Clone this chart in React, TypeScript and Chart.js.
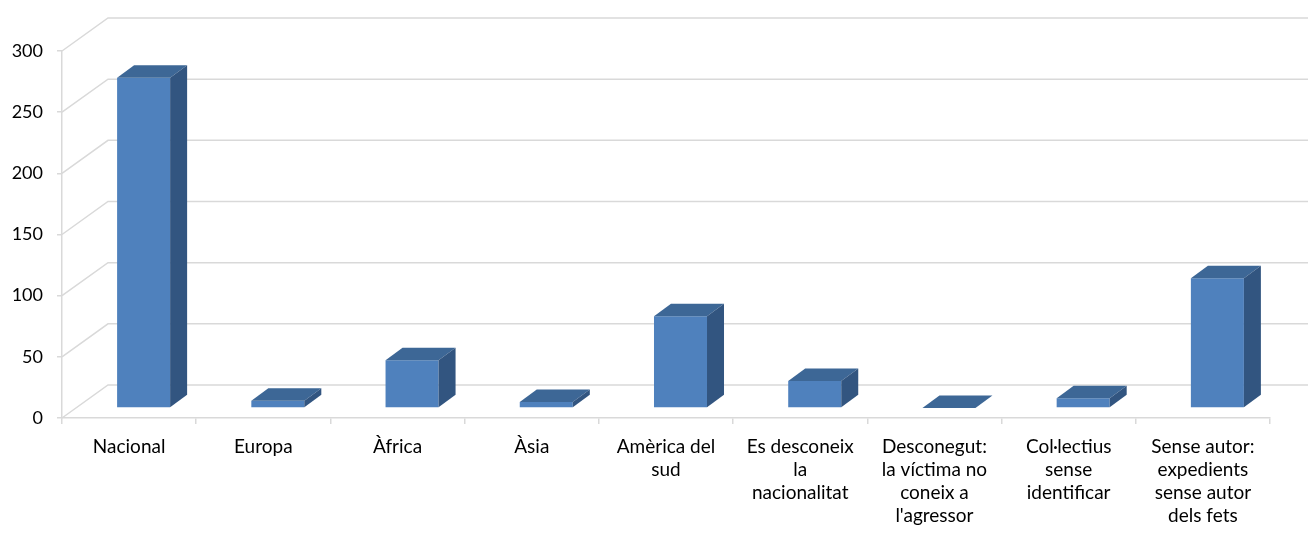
import React, { useEffect, useRef } from "react";
import { Chart, registerables } from "chart.js";

Chart.register(...registerables);

const categories: string[][] = [
  ["Nacional"],
  ["Europa"],
  ["Àfrica"],
  ["Àsia"],
  ["Amèrica del", "sud"],
  ["Es desconeix", "la", "nacionalitat"],
  ["Desconegut:", "la víctima no", "coneix a", "l'agressor"],
  ["Col·lectius", "sense", "identificar"],
  ["Sense autor:", "expedients", "sense autor", "dels fets"],
];
const values: number[] = [270, 6, 39, 5, 75, 22, 0, 8, 106];
const yMin = 0;
const yMax = 300;
const yStep = 50;

// 3D geometry (styling)
const WALL_DX = 46;
const WALL_DY = -33;
const BAR_OX = 14.5;
const BAR_OY = -10;
const BAR_DX = 17;
const BAR_DY = -12.5;
const FRONT = "#4f81bd";
const TOP = "#3d6796";
const SIDE = "#325580";
const GRID = "#d9d9d9";

const threeD = {
  id: "threeD",
  beforeDatasetsDraw(chart: any) {
    const { ctx, chartArea, scales } = chart;
    const y = scales.y;
    ctx.save();
    ctx.strokeStyle = GRID;
    ctx.lineWidth = 1.5;
    const left = chartArea.left;
    y.ticks.forEach((t: any) => {
      const py = y.getPixelForValue(t.value);
      ctx.beginPath();
      ctx.moveTo(left, py);
      ctx.lineTo(left + WALL_DX, py + WALL_DY);
      ctx.lineTo(chart.width, py + WALL_DY);
      ctx.stroke();
    });
    ctx.restore();
  },
  beforeDatasetDraw(chart: any) {
    chart.ctx.save();
    chart.ctx.translate(BAR_OX, BAR_OY);
  },
  afterDatasetDraw(chart: any, args: any) {
    const ctx = chart.ctx;
    const meta = chart.getDatasetMeta(args.index);
    meta.data.forEach((bar: any) => {
      const { x, y, base, width } = bar.getProps(["x", "y", "base", "width"], true);
      const l = x - width / 2;
      const r = x + width / 2;
      ctx.fillStyle = TOP;
      ctx.beginPath();
      ctx.moveTo(l, y);
      ctx.lineTo(r, y);
      ctx.lineTo(r + BAR_DX, y + BAR_DY);
      ctx.lineTo(l + BAR_DX, y + BAR_DY);
      ctx.closePath();
      ctx.fill();
      if (base - y > 0.5) {
        ctx.fillStyle = SIDE;
        ctx.beginPath();
        ctx.moveTo(r, y);
        ctx.lineTo(r + BAR_DX, y + BAR_DY);
        ctx.lineTo(r + BAR_DX, base + BAR_DY);
        ctx.lineTo(r, base);
        ctx.closePath();
        ctx.fill();
      }
    });
    ctx.restore();
  },
};

export default function App() {
  const ref = useRef<HTMLCanvasElement | null>(null);
  useEffect(() => {
    if (!ref.current) return;
    const chart = new Chart(ref.current, {
      type: "bar",
      data: {
        labels: categories as any,
        datasets: [
          {
            data: values,
            backgroundColor: FRONT,
            borderWidth: 0,
            barPercentage: 0.395,
            categoryPercentage: 1,
          },
        ],
      },
      options: {
        animation: false,
        responsive: false,
        layout: { padding: { top: 51, right: 38, left: 0, bottom: 0 } },
        plugins: { legend: { display: false }, tooltip: { enabled: false } },
        scales: {
          x: {
            offset: true,
            afterFit: (s: any) => {
              s.height = 119;
            },
            grid: {
              offset: true,
              drawOnChartArea: false,
              color: GRID,
              tickLength: 6,
              lineWidth: 1.5,
            },
            border: { display: true, color: GRID, width: 1.5 },
            ticks: {
              color: "#000",
              padding: 11,
              maxRotation: 0,
              autoSkip: false,
              font: { family: "Lato", size: 19, lineHeight: 23 / 19 },
            },
          },
          y: {
            min: yMin,
            max: yMax,
            afterFit: (s: any) => {
              s.width = 62;
            },
            grid: {
              drawOnChartArea: false,
              color: GRID,
              tickLength: 5,
              lineWidth: 1.5,
            },
            border: { display: true, color: GRID, width: 1.5 },
            ticks: {
              stepSize: yStep,
              color: "#000",
              padding: 14,
              font: { family: "Lato", size: 18 },
            },
          },
        },
      },
      plugins: [threeD],
    });
    return () => chart.destroy();
  }, []);
  return (
    <div style={{ position: "absolute", left: 0, top: 0, width: 1308, height: 537, background: "#fff" }}>
      <canvas ref={ref} width={1308} height={537} />
    </div>
  );
}
